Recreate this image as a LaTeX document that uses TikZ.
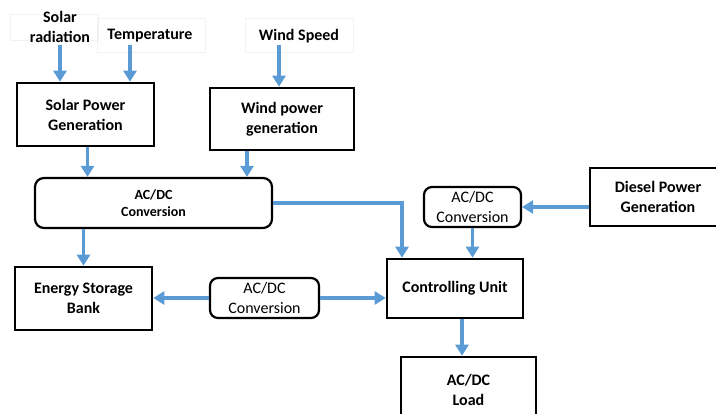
\documentclass[tikz,border=0pt]{standalone}
\usepackage{fontspec}
\setmainfont{Carlito}
\usetikzlibrary{arrows.meta}

\definecolor{flowblue}{RGB}{91,155,213}

\tikzset{
  box/.style={draw=black, line width=2.6pt, align=center, font=\bfseries\fontsize{16}{20}\selectfont, inner sep=0pt},
  convbig/.style={draw=black, line width=2.2pt, rounded corners=9pt, align=center, font=\bfseries\fontsize{14}{17}\selectfont, inner sep=0pt},
  conv/.style={draw=black, line width=2.2pt, rounded corners=8pt, align=center, font=\fontsize{16}{19.5}\selectfont, inner sep=0pt},
  label/.style={align=center, font=\bfseries\fontsize{16}{19.5}\selectfont, inner sep=2pt},
  flow/.style={draw=flowblue, line width=3.8pt, -{Triangle[width=13pt,length=11pt]}},
}

\begin{document}
\begin{tikzpicture}[x=1pt, y=-1pt]
      % Page frame
      \useasboundingbox (0,0) rectangle (716,414);
      \clip (0,0) rectangle (716,414);

      % Faint text frames
      \draw[black!5, line width=0.6pt] (10,14) rectangle (98,40);
      \draw[black!5, line width=0.6pt] (97,18) rectangle (205,52);
      \draw[black!5, line width=0.6pt] (245,18) rectangle (353,52);

      % Inputs
      \node[label] (rad) at (60,27) {Solar\\radiation};
      \node[label] (temp) at (150,36) {Temperature};
      \node[label] (windspd) at (299,36) {Wind Speed};

      % Generation blocks
      \node[box, minimum width=137pt, minimum height=63pt] (solar) at (85.5,114.5) {Solar Power\\Generation};
      \node[box, minimum width=144pt, minimum height=62pt] (wind) at (282,119) {Wind power\\generation};
      \node[box, minimum width=136pt, minimum height=58pt] (diesel) at (658,197) {Diesel Power\\Generation};

      % Converters
      \node[convbig, minimum width=237pt, minimum height=50pt] (conv1) at (153.5,203) {AC/DC\\Conversion};
      \node[conv, minimum width=109pt, minimum height=40pt] (conv2) at (264.5,298) {AC/DC\\Conversion};
      \node[conv, minimum width=97pt, minimum height=40pt] (conv3) at (472.5,207) {AC/DC\\Conversion};

      % Storage, control and load
      \node[box, minimum width=137pt, minimum height=63pt] (storage) at (83.5,298.5) {Energy Storage\\Bank};
      \node[box, minimum width=136pt, minimum height=59pt] (ctrl) at (455,288.5) {Controlling Unit};
      \node[box, minimum width=135pt, minimum height=65pt] (load) at (468.5,389.5) {AC/DC\\Load};

      % Inputs to generators
      \draw[flow] (rad.south) -- (rad.south |- solar.north);
      \draw[flow] ([xshift=-20pt]temp.south) -- ([xshift=-20pt]temp.south |- solar.north);
      \draw[flow] ([xshift=-20pt]windspd.south) -- ([xshift=-20pt]windspd.south |- wind.north);

      % Generators to converter
      \draw[flow] ([xshift=2pt]solar.south) -- ([xshift=2pt]solar.south |- conv1.north);
      \draw[flow] ([xshift=-35pt]wind.south) -- ([xshift=-35pt]wind.south |- conv1.north);

      % Converter outputs
      \draw[flow] (conv1.east) -| ([xshift=-53pt]ctrl.north);
      \draw[flow] (conv1.south -| storage.north) -- (storage.north);

      % Storage link
      \draw[flow] (conv2.west) -- (storage.east |- conv2.west);
      \draw[flow] (conv2.east) -- (conv2.east -| ctrl.west);

      % Diesel path
      \draw[flow] (diesel.west |- conv3.east) -- (conv3.east);
      \draw[flow] (conv3.south) -- (conv3.south |- ctrl.north);

      % Load
      \draw[flow] ([xshift=7pt]ctrl.south) -- ([xshift=7pt]ctrl.south |- load.north);
\end{tikzpicture}
\end{document}
